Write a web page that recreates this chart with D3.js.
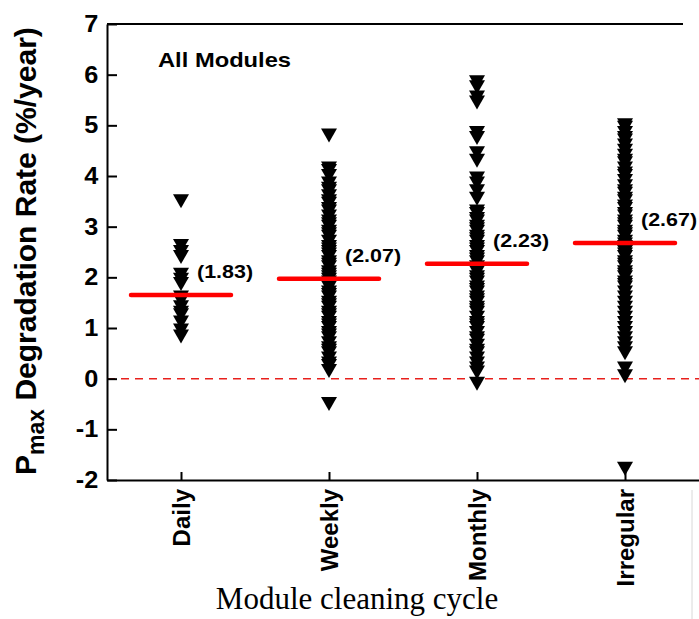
<!DOCTYPE html>
<html>
<head>
<meta charset="utf-8">
<script src="https://cdn.jsdelivr.net/npm/d3@7"></script>
<style>
  body { margin: 0; background: #fff; }
  svg { display: block; }
  .axis path, .axis line { stroke: #000; stroke-width: 2; }
  .axis text { fill: #000; font-family: "Liberation Sans", Arial, sans-serif; font-weight: bold; }
</style>
</head>
<body>
<div id="chart"></div>
<script>
// categories and values
const categories = ["Daily", "Weekly", "Monthly", "Irregular"];

const dailyValues = [3.5, 2.62, 2.5, 2.4, 2.05, 1.95, 1.87, 1.6, 1.54, 1.41, 1.3, 1.25, 1.11, 0.95, 0.83];

const weeklyValues = [4.8, 4.15, 4.1, 4.0, 3.85, 3.75, 3.7, 3.6, 3.5, 3.45, 3.35, 3.3, 3.2, 3.1, 3.05,
  3.0, 2.9, 2.85, 2.8, 2.7, 2.6, 2.55, 2.5, 2.45, 2.4, 2.3, 2.25, 2.2, 2.1, 2.05, 2.0, 1.95, 1.9,
  1.85, 1.8, 1.7, 1.65, 1.6, 1.5, 1.45, 1.4, 1.3, 1.25, 1.2, 1.1, 1.05, 1.0, 0.9, 0.85, 0.8, 0.7,
  0.6, 0.55, 0.5, 0.4, 0.3, 0.25, 0.15, -0.5];

const monthlyValues = [5.85, 5.75, 5.55, 5.45, 4.85, 4.75, 4.45, 4.3, 3.95, 3.85, 3.7, 3.55,
  3.3, 3.25, 3.15, 3.1, 3.0, 2.95, 2.9, 2.8, 2.75, 2.7, 2.6, 2.55, 2.5, 2.4, 2.35, 2.3, 2.2, 2.15,
  2.1, 2.0, 1.95, 1.9, 1.8, 1.75, 1.7, 1.6, 1.55, 1.5, 1.4, 1.35, 1.3, 1.2, 1.1, 1.05, 1.0, 0.9,
  0.8, 0.75, 0.65, 0.55, 0.5, 0.4, 0.3, 0.2, 0.12, -0.1];

const irregularValues = [5.0, 4.95, 4.85, 4.75, 4.7, 4.6, 4.5, 4.4, 4.3, 4.25, 4.15, 4.05, 4.0,
  3.9, 3.8, 3.7, 3.65, 3.55, 3.5, 3.4, 3.35, 3.25, 3.2, 3.1, 3.05, 3.0, 2.9, 2.85, 2.8, 2.7, 2.65,
  2.6, 2.5, 2.45, 2.4, 2.3, 2.25, 2.2, 2.1, 2.05, 2.0, 1.9, 1.85, 1.8, 1.7, 1.6, 1.5, 1.4, 1.3,
  1.2, 1.1, 1.0, 0.9, 0.8, 0.7, 0.6, 0.5, 0.2, 0.05, -1.78];

// red bars as drawn, and the labels printed beside them
const meanLines = [1.65, 1.97, 2.27, 2.68];
const meanLabels = ["(1.83)", "(2.07)", "(2.23)", "(2.67)"];

const yTicks = [-2, -1, 0, 1, 2, 3, 4, 5, 6, 7];

const width = 699, height = 619;
const plotLeft = 107, plotTop = 24, plotBottom = 480;

const svg = d3.select("#chart").append("svg")
  .attr("width", width)
  .attr("height", height);

svg.append("rect").attr("width", width).attr("height", height).attr("fill", "#fff");

const x = d3.scalePoint()
  .domain(categories)
  .range([plotLeft, width])
  .padding(0.5);

const y = d3.scaleLinear()
  .domain([-2, 7])
  .range([plotBottom, plotTop]);

// zero reference line
svg.append("line")
  .attr("x1", plotLeft).attr("x2", width)
  .attr("y1", y(0)).attr("y2", y(0))
  .attr("stroke", "#e8201c")
  .attr("stroke-width", 1.5)
  .attr("stroke-dasharray", "8,6");

// points, one group per category
const groups = [dailyValues, weeklyValues, monthlyValues, irregularValues];
const points = [];
groups.forEach((vals, i) => vals.forEach(v => points.push({cat: categories[i], v: v})));

const tri = "M-8,-7L8,-7L0,7Z";
svg.append("g").selectAll("path")
  .data(points)
  .join("path")
  .attr("d", tri)
  .attr("transform", d => `translate(${x(d.cat)},${y(d.v)})`)
  .attr("fill", "#000");

// mean lines
svg.append("g").selectAll("line")
  .data(meanLines)
  .join("line")
  .attr("x1", (d, i) => x(categories[i]) - 50)
  .attr("x2", (d, i) => x(categories[i]) + 50)
  .attr("y1", d => y(d))
  .attr("y2", d => y(d))
  .attr("stroke", "#f00")
  .attr("stroke-width", 4.5)
  .attr("stroke-linecap", "round");

svg.append("g").selectAll("text")
  .data(meanLabels)
  .join("text")
  .attr("transform", (d, i) => `translate(${x(categories[i]) + 16},${y(meanLines[i]) - 17}) scale(1.13,1)`)
  .attr("font-family", "'Liberation Sans', Arial, sans-serif")
  .attr("font-weight", "bold")
  .attr("font-size", 19)
  .text(d => d);

// axes
const yAxis = svg.append("g")
  .attr("class", "axis")
  .attr("transform", `translate(${plotLeft},0)`)
  .call(d3.axisLeft(y).tickValues(yTicks).tickFormat(d => String(d))
    .tickSize(-10).tickSizeOuter(0).tickPadding(8));
yAxis.selectAll("text")
  .attr("font-size", 23)
  .attr("transform", "scale(1.1,1)");

const xAxis = svg.append("g")
  .attr("class", "axis")
  .attr("transform", `translate(0,${plotBottom})`)
  .call(d3.axisBottom(x).tickSize(-8).tickSizeOuter(0));
xAxis.selectAll("text")
  .attr("font-size", 24)
  .attr("transform", "rotate(-90)")
  .attr("text-anchor", "end")
  .attr("x", -9)
  .attr("y", 0)
  .attr("dy", "0.35em");

// top frame line
svg.append("line")
  .attr("x1", plotLeft).attr("x2", 683)
  .attr("y1", plotTop).attr("y2", plotTop)
  .attr("stroke", "#000").attr("stroke-width", 2);

// faint edge left in the picture
svg.append("line")
  .attr("x1", 692).attr("x2", 692)
  .attr("y1", 490).attr("y2", height)
  .attr("stroke", "#d8d8d8").attr("stroke-width", 1);

svg.append("text")
  .attr("transform", "translate(158,67) scale(1.13,1)")
  .attr("font-family", "'Liberation Sans', Arial, sans-serif")
  .attr("font-weight", "bold")
  .attr("font-size", 21)
  .text("All Modules");

// y title with subscript
const yTitle = svg.append("text")
  .attr("transform", "translate(36,475) rotate(-90)")
  .attr("font-family", "'Liberation Sans', Arial, sans-serif")
  .attr("font-weight", "bold")
  .attr("font-size", 30);
yTitle.append("tspan").text("P");
yTitle.append("tspan").attr("font-size", 23).attr("dy", 8).text("max");
yTitle.append("tspan").attr("dy", -8).text(" Degradation Rate (%/year)");

svg.append("text")
  .attr("x", 357)
  .attr("y", 609)
  .attr("text-anchor", "middle")
  .attr("font-family", "'Liberation Serif', 'Times New Roman', serif")
  .attr("font-size", 31)
  .text("Module cleaning cycle");
</script>
</body>
</html>
